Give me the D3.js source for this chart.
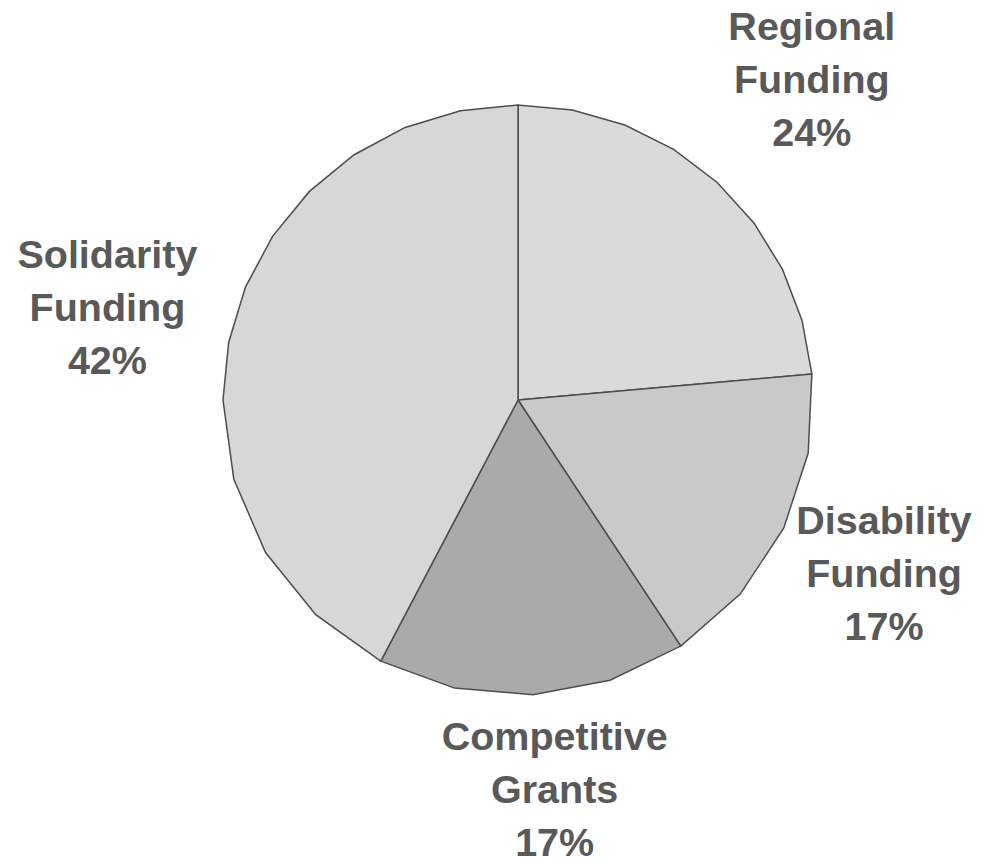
<!DOCTYPE html>
<html lang="en">
<head>
    <meta charset="UTF-8">
    <title>funding pie</title>
    <script src="https://d3js.org/d3.v7.min.js"></script>
    <style>
        body { margin: 0; background: #fff; }
        svg { display: block; }
    </style>
</head>
<body>
    <svg></svg>
    <script>
        // slices, clockwise from 12 o'clock
        const names = [['Regional', 'Funding'], ['Disability', 'Funding'], ['Competitive', 'Grants'], ['Solidarity', 'Funding']];
        const values = [23.6, 17.1, 17.0, 42.3];
        const colors = ['#dadada', '#c9c9c9', '#aaaaaa', '#d7d7d7'];

        const svgWidth = 983;
        const svgHeight = 863;
        const cx = 518, cy = 400, radius = 295;

        // where each label block sits: distance from centre and angle tweak (degrees)
        const labelPlace = [
            { r: 435, da: 0 },
            { r: 405, da: -0.4 },
            { r: 391, da: -2.5 },
            { r: 421, da: -1.1 }
        ];
        const lineGap = 53;

        const svg = d3.select('svg')
            .attr('width', svgWidth)
            .attr('height', svgHeight);

        const g = svg.append('g')
            .attr('transform', `translate(${cx},${cy})`);

        const pie = d3.pie().sort(null).value(d => d);
        const arcs = pie(values);

        // the old-style pie is drawn as a polygon: arcs are split into <=90deg pieces
        // (counted back from the end) and each piece flattened into 2^k straight segments
        function arcPoints(a0, a1) {
            const pts = [];
            const cuts = [a1];
            let a = a1;
            while (a - a0 > Math.PI / 2 + 1e-6) { a -= Math.PI / 2; cuts.unshift(a); }
            cuts.unshift(a0);
            pts.push(d3.pointRadial(a0, radius));
            for (let i = 0; i < cuts.length - 1; i++) {
                const span = cuts[i + 1] - cuts[i];
                let n = 1;
                while (radius * (1 - Math.cos(span / n / 2)) > 4) n *= 2;
                for (let j = 1; j <= n; j++) {
                    pts.push(d3.pointRadial(cuts[i] + span * j / n, radius));
                }
            }
            return pts;
        }

        const line = d3.line().curve(d3.curveLinearClosed);

        g.selectAll('path.slice')
            .data(arcs)
            .join('path')
            .attr('class', 'slice')
            .attr('fill', (d, i) => colors[i])
            .attr('stroke', '#4d4d4d')
            .attr('stroke-width', 1.5)
            .attr('stroke-linejoin', 'miter')
            .attr('d', d => line([[0, 0]].concat(arcPoints(d.startAngle, d.endAngle))));

        g.selectAll('text.label')
            .data(arcs)
            .join('text')
            .attr('class', 'label')
            .attr('font-family', '"Liberation Sans", Arial, sans-serif')
            .attr('font-weight', 'bold')
            .attr('font-size', 39.5)
            .attr('fill', '#595959')
            .attr('text-anchor', 'middle')
            .each(function(d, i) {
                const mid = (d.startAngle + d.endAngle) / 2 + labelPlace[i].da * Math.PI / 180;
                const [x, y] = d3.pointRadial(mid, labelPlace[i].r);
                const rows = names[i].concat([Math.round(d.data) + '%']);
                d3.select(this).selectAll('tspan')
                    .data(rows)
                    .join('tspan')
                    .attr('x', x)
                    .attr('y', (t, k) => y + 14 + (k - 1) * lineGap)
                    .text(t => t);
            });
    </script>
</body>
</html>
